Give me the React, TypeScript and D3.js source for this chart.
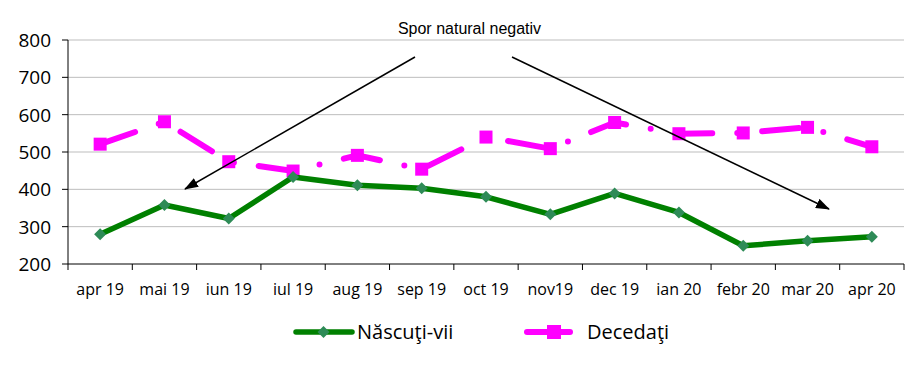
import React from "react";
import * as d3 from "d3";

const categories = ["apr 19", "mai 19", "iun 19", "iul 19", "aug 19", "sep 19", "oct 19", "nov19", "dec 19", "ian 20", "febr 20", "mar 20", "apr 20"];
const nascuti = [280, 358, 322, 433, 411, 403, 380, 333, 389, 338, 249, 262, 273];
const decedati = [521, 581, 474, 449, 491, 454, 540, 509, 579, 549, 551, 566, 514];
const yTicks = [200, 300, 400, 500, 600, 700, 800];
const seriesNames = ["Născuţi-vii", "Decedaţi"];
const annotation = "Spor natural negativ";

const W = 918, H = 380;
const left = 68, right = 904, top = 40, bottom = 264;

export default function App() {
  const x = d3.scaleBand<string>().domain(categories).range([left, right]);
  const y = d3.scaleLinear().domain([200, 800]).range([bottom, top]);
  const cx = (c: string) => (x(c) as number) + x.bandwidth() / 2;
  const line = d3.line<number>().x((_, i) => cx(categories[i])).y((d) => y(d));
  const font = "'Open Sans', 'Noto Sans', sans-serif";
  const green = "#008000", greenMarker = "#2e8b57", magenta = "#ff00ff";
  const diamond = (px: number, py: number, r: number) => `M${px},${py - r}L${px + r},${py}L${px},${py + r}L${px - r},${py}Z`;
  return (
    <svg width={W} height={H} style={{ position: "absolute", left: 0, top: 0, background: "#fff" }}>
      <defs>
        <marker id="arr" viewBox="0 0 14 10" refX="13" refY="5" markerWidth="14" markerHeight="10" markerUnits="userSpaceOnUse" orient="auto">
          <path d="M0,0L14,5L0,10Z" fill="#000" />
        </marker>
      </defs>
      {yTicks.map((t) => (
        <g key={t}>
          {t !== 200 && <line x1={left} x2={right} y1={y(t)} y2={y(t)} stroke="#bdbdbd" strokeWidth={1} />}
          <line x1={left - 6} x2={left} y1={y(t)} y2={y(t)} stroke="#000" />
          <text x={51} y={y(t)} dy="0.36em" textAnchor="end" fontFamily={font} fontSize={19} fill="#000">{t}</text>
        </g>
      ))}
      <line x1={left} x2={left} y1={top} y2={bottom} stroke="#000" />
      <line x1={left} x2={right} y1={bottom} y2={bottom} stroke="#000" />
      {categories.map((c, i) => (
        <g key={c}>
          <line x1={x(c) as number} x2={x(c) as number} y1={bottom} y2={bottom + 6} stroke="#000" />
          {i === categories.length - 1 && <line x1={right} x2={right} y1={bottom} y2={bottom + 6} stroke="#000" />}
          <text x={cx(c)} y={295} textAnchor="middle" fontFamily={font} fontSize={16} fill="#000">{c}</text>
        </g>
      ))}
      <path d={line(decedati) || ""} fill="none" stroke={magenta} strokeWidth={6} strokeLinecap="round" strokeDasharray="37,25,0,25" />
      {decedati.map((v, i) => (
        <rect key={i} x={cx(categories[i]) - 6.5} y={y(v) - 6.5} width={13} height={13} fill={magenta} />
      ))}
      <path d={line(nascuti) || ""} fill="none" stroke={green} strokeWidth={5.5} strokeLinejoin="round" />
      {nascuti.map((v, i) => (
        <path key={i} d={diamond(cx(categories[i]), y(v), 6)} fill={greenMarker} />
      ))}
      <text x={469.5} y={34} textAnchor="middle" fontFamily="'Liberation Sans', Arial, sans-serif" fontSize={16} fill="#000">{annotation}</text>
      <line x1={415} y1={57} x2={185} y2={189} stroke="#000" strokeWidth={1.5} markerEnd="url(#arr)" />
      <line x1={512} y1={57} x2={829} y2={209} stroke="#000" strokeWidth={1.5} markerEnd="url(#arr)" />
      <g>
        <line x1={296} x2={352} y1={332} y2={332} stroke={green} strokeWidth={5.5} strokeLinecap="round" />
        <path d={diamond(323.5, 332, 6)} fill={greenMarker} />
        <text x={357} y={332} dy="0.36em" fontFamily={font} fontSize={20} fill="#000">{seriesNames[0]}</text>
        <line x1={527} x2={570} y1={332} y2={332} stroke={magenta} strokeWidth={6} strokeLinecap="round" />
        <rect x={547} y={325} width={14} height={14} fill={magenta} />
        <text x={587} y={332} dy="0.36em" fontFamily={font} fontSize={20} fill="#000">{seriesNames[1]}</text>
      </g>
    </svg>
  );
}
